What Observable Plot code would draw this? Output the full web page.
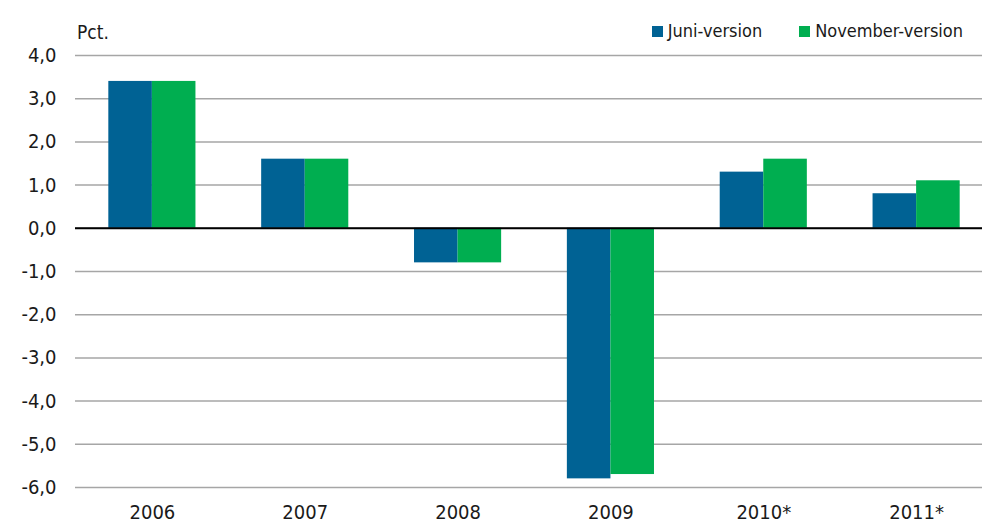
<!DOCTYPE html>
<html>
<head>
<meta charset="utf-8">
<script src="https://cdn.jsdelivr.net/npm/d3@7"></script>
<script src="https://cdn.jsdelivr.net/npm/@observablehq/plot@0.6"></script>
<style>
  html, body { margin: 0; padding: 0; background: #fff; }
  #wrap { position: relative; width: 982px; height: 524px; font-family: "Liberation Sans Narrow", "DejaVu Sans Condensed", sans-serif; color: #1a1a1a; }
  #unit { position: absolute; left: 77px; top: 21px; font-size: 19px; line-height: 22px; }
  #legend { position: absolute; right: 19px; top: 20px; display: flex; gap: 37px; font-size: 18px; line-height: 22px; }
  .item { display: flex; align-items: center; gap: 5px; }
  .sw { width: 11px; height: 11px; display: inline-block; }
  #chart { position: absolute; left: 0; top: 0; }
</style>
</head>
<body>
<div id="wrap">
  <div id="chart"></div>
  <div id="unit">Pct.</div>
  <div id="legend"></div>
</div>
<script>
const years = ["2006", "2007", "2008", "2009", "2010*", "2011*"];
const juni = [3.4, 1.6, -0.8, -5.8, 1.3, 0.8];
const november = [3.4, 1.6, -0.8, -5.7, 1.6, 1.1];
const seriesNames = ["Juni-version", "November-version"];
const seriesColors = ["#006294", "#00ae50"];
const yTicks = [4, 3, 2, 1, 0, -1, -2, -3, -4, -5, -6];

const rows = [];
years.forEach((y, i) => {
  rows.push({year: y, series: seriesNames[0], value: juni[i]});
  rows.push({year: y, series: seriesNames[1], value: november[i]});
});

const xRange = [75, 993];
const padIn = 0.43, padOut = 0.218;
const bw = d3.scaleBand().domain(years).range(xRange).paddingInner(padIn).paddingOuter(padOut).bandwidth();
const fmt = v => v.toFixed(1).replace(".", ",");

const chart = Plot.plot({
  width: 982,
  height: 524,
  marginTop: 55,
  marginBottom: 37,
  marginLeft: 75,
  marginRight: 0,
  style: {fontFamily: '"Liberation Sans Narrow", "DejaVu Sans Condensed", sans-serif', fontSize: "20px", color: "#1a1a1a", background: "transparent"},
  x: {domain: years, range: xRange, paddingInner: padIn, paddingOuter: padOut, round: false, label: null, tickSize: 0, tickPadding: 17},
  y: {domain: [-6, 4], ticks: yTicks, tickFormat: fmt, label: null, tickSize: 0, tickPadding: 19},
  marks: [
    Plot.ruleY(yTicks, {stroke: "#a6a6a6", strokeWidth: 1.5}),
    Plot.barY(rows.filter(d => d.series === seriesNames[0]), {x: "year", y: "value", fill: seriesColors[0], insetRight: bw / 2}),
    Plot.barY(rows.filter(d => d.series === seriesNames[1]), {x: "year", y: "value", fill: seriesColors[1], insetLeft: bw / 2}),
    Plot.ruleY([0], {stroke: "#000", strokeWidth: 2})
  ]
});
document.getElementById("chart").appendChild(chart);

const legend = document.getElementById("legend");
seriesNames.forEach((n, i) => {
  const it = document.createElement("div");
  it.className = "item";
  const sw = document.createElement("span");
  sw.className = "sw";
  sw.style.background = seriesColors[i];
  const t = document.createElement("span");
  t.textContent = n;
  it.appendChild(sw);
  it.appendChild(t);
  legend.appendChild(it);
});
</script>
</body>
</html>
